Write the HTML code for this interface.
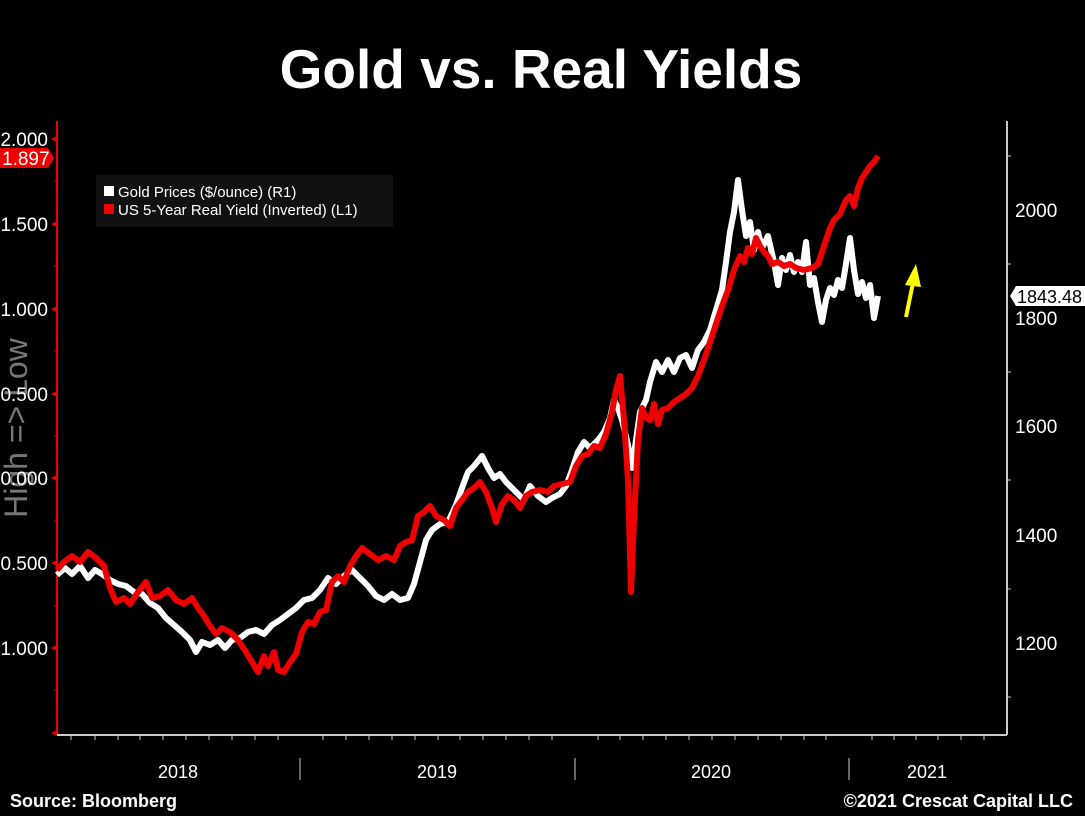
<!DOCTYPE html>
<html><head><meta charset="utf-8"><style>
html,body{margin:0;padding:0;background:#000;width:1085px;height:816px;overflow:hidden}
svg{display:block}
text{font-family:"Liberation Sans",sans-serif}
</style></head><body>
<svg width="1085" height="816" viewBox="0 0 1085 816">
<rect width="1085" height="816" fill="#000"/>
<text x="541" y="88" text-anchor="middle" fill="#fff" font-size="55" font-weight="bold">Gold vs. Real Yields</text>
<!-- left axis -->
<line x1="57" y1="121" x2="57" y2="735" stroke="#e00" stroke-width="2"/>
<g fill="#e00">
<polygon points="51,139 57,136 57,142"/><polygon points="51,224 57,221 57,227"/><polygon points="51,309 57,306 57,312"/>
<polygon points="51,394 57,391 57,397"/><polygon points="51,478 57,475 57,481"/><polygon points="51,563 57,560 57,566"/>
<polygon points="51,648 57,645 57,651"/><polygon points="51,733 57,730 57,736"/>
</g>
<g stroke="#e00" stroke-width="1"><line x1="54" y1="181" x2="57" y2="181"/><line x1="54" y1="266" x2="57" y2="266"/><line x1="54" y1="351" x2="57" y2="351"/><line x1="54" y1="436" x2="57" y2="436"/><line x1="54" y1="521" x2="57" y2="521"/><line x1="54" y1="606" x2="57" y2="606"/><line x1="54" y1="690" x2="57" y2="690"/></g>
<text x="-428" y="27" transform="rotate(-90)" text-anchor="middle" fill="#777" font-size="32">High =&gt; Low</text>
<g fill="#fff" font-size="19" text-anchor="end">
<text x="48" y="146">2.000</text><text x="48" y="231">1.500</text><text x="48" y="316">1.000</text>
<text x="48" y="401">0.500</text><text x="48" y="485">0.000</text><text x="48" y="570">0.500</text><text x="48" y="655">1.000</text>
</g>
<polygon points="0,148 48,148 54,158 48,168 0,168" fill="#e00"/>
<text x="2" y="165" fill="#fff" font-size="19">1.897</text>
<!-- right axis -->
<line x1="1007" y1="121" x2="1007" y2="735" stroke="#ccc" stroke-width="2"/>
<g stroke="#ccc"><line x1="1007" y1="156" x2="1011" y2="156"/><line x1="1007" y1="264" x2="1011" y2="264"/><line x1="1007" y1="372" x2="1011" y2="372"/><line x1="1007" y1="480" x2="1011" y2="480"/><line x1="1007" y1="589" x2="1011" y2="589"/><line x1="1007" y1="697" x2="1011" y2="697"/></g>
<g fill="#fff" font-size="19">
<text x="1015" y="217">2000</text><text x="1015" y="325">1800</text><text x="1015" y="433">1600</text><text x="1015" y="542">1400</text><text x="1015" y="650">1200</text>
</g>
<polygon points="1010,296 1016,286 1085,286 1085,306 1016,306" fill="#fff"/>
<text x="1017" y="303" fill="#000" font-size="18">1843.48</text>
<!-- bottom axis -->
<line x1="57" y1="735" x2="1007" y2="735" stroke="#ccc" stroke-width="2"/>
<g stroke="#ccc">
<line x1="71" y1="735" x2="71" y2="740"/><line x1="95" y1="735" x2="95" y2="740"/><line x1="118" y1="735" x2="118" y2="740"/><line x1="140" y1="735" x2="140" y2="740"/><line x1="163" y1="735" x2="163" y2="740"/><line x1="186" y1="735" x2="186" y2="740"/><line x1="209" y1="735" x2="209" y2="740"/><line x1="232" y1="735" x2="232" y2="740"/><line x1="255" y1="735" x2="255" y2="740"/><line x1="278" y1="735" x2="278" y2="740"/><line x1="323" y1="735" x2="323" y2="740"/><line x1="346" y1="735" x2="346" y2="740"/><line x1="369" y1="735" x2="369" y2="740"/><line x1="392" y1="735" x2="392" y2="740"/><line x1="415" y1="735" x2="415" y2="740"/><line x1="438" y1="735" x2="438" y2="740"/><line x1="460" y1="735" x2="460" y2="740"/><line x1="483" y1="735" x2="483" y2="740"/><line x1="506" y1="735" x2="506" y2="740"/><line x1="529" y1="735" x2="529" y2="740"/><line x1="552" y1="735" x2="552" y2="740"/><line x1="598" y1="735" x2="598" y2="740"/><line x1="620" y1="735" x2="620" y2="740"/><line x1="643" y1="735" x2="643" y2="740"/><line x1="666" y1="735" x2="666" y2="740"/><line x1="689" y1="735" x2="689" y2="740"/><line x1="712" y1="735" x2="712" y2="740"/><line x1="735" y1="735" x2="735" y2="740"/><line x1="758" y1="735" x2="758" y2="740"/><line x1="781" y1="735" x2="781" y2="740"/><line x1="804" y1="735" x2="804" y2="740"/><line x1="826" y1="735" x2="826" y2="740"/><line x1="872" y1="735" x2="872" y2="740"/><line x1="894" y1="735" x2="894" y2="740"/><line x1="916" y1="735" x2="916" y2="740"/><line x1="938" y1="735" x2="938" y2="740"/><line x1="961" y1="735" x2="961" y2="740"/><line x1="984" y1="735" x2="984" y2="740"/>
<line x1="300" y1="758" x2="300" y2="780"/><line x1="575" y1="758" x2="575" y2="780"/><line x1="849" y1="758" x2="849" y2="780"/>
</g>
<g fill="#fff" font-size="18" text-anchor="middle">
<text x="178" y="778">2018</text><text x="437" y="778">2019</text><text x="711" y="778">2020</text><text x="927" y="778">2021</text>
</g>
<!-- legend -->
<rect x="96" y="175" width="297" height="52" fill="#111"/>
<rect x="104" y="186" width="10" height="10" fill="#fff"/>
<text x="118" y="197" fill="#fff" font-size="15">Gold Prices ($/ounce) (R1)</text>
<rect x="104" y="204" width="10" height="10" fill="#e00"/>
<text x="118" y="215" fill="#fff" font-size="15">US 5-Year Real Yield (Inverted) (L1)</text>
<!-- series -->
<polyline fill="none" stroke="#fff" stroke-width="6" stroke-linejoin="round" points="57,575 65,568 72,574 80,566 88,578 95,570 102,574 110,580 118,584 126,586 134,592 142,594 150,603 158,608 166,618 174,625 182,632 190,640 196,652 202,642 210,645 218,640 225,648 232,640 240,638 248,632 256,630 264,634 272,625 280,620 288,614 296,608 304,600 312,598 320,590 328,578 336,584 344,576 352,570 360,578 368,586 376,596 384,600 392,594 400,600 408,598 414,584 420,562 426,540 432,530 440,524 448,522 456,505 462,488 468,472 474,466 482,456 488,468 494,478 500,474 506,482 512,488 518,494 524,500 530,486 538,496 546,502 552,498 560,494 566,486 572,470 578,452 584,442 590,448 598,440 604,432 610,418 614,400 618,408 622,420 628,445 632,468 636,440 640,412 646,400 650,382 656,362 662,372 668,360 674,372 680,358 686,355 692,368 698,350 704,342 710,330 716,310 722,290 726,262 730,232 734,212 738,180 742,210 746,236 750,222 754,250 758,232 762,248 768,236 774,262 778,285 782,258 786,270 790,255 794,272 798,262 802,272 806,242 810,285 814,278 818,302 822,322 826,300 830,288 834,295 838,280 842,288 846,264 850,238 854,270 858,294 862,282 866,298 870,285 874,318 878,296"/>
<polyline fill="none" stroke="#e00" stroke-width="6" stroke-linejoin="round" points="57,570 64,562 72,556 80,562 88,552 96,558 104,566 110,588 116,602 124,598 130,604 138,592 146,582 152,598 160,596 168,590 176,600 184,604 192,598 198,608 204,616 210,626 216,634 222,628 230,632 238,640 246,652 252,662 258,672 264,656 268,666 274,652 278,670 284,672 290,662 296,654 302,632 308,622 314,624 320,612 326,610 332,582 338,576 344,582 350,566 356,556 362,548 370,554 378,560 386,556 394,560 400,546 406,542 412,540 418,516 424,512 430,506 436,516 444,520 450,526 456,508 462,500 468,492 474,488 480,482 486,492 492,508 496,522 502,504 508,496 514,500 520,508 526,496 532,492 540,490 548,492 554,486 562,484 570,482 576,466 582,456 588,454 594,446 600,448 606,434 612,412 616,390 620,376 624,420 628,480 631,592 634,520 638,440 642,408 646,418 650,420 654,404 658,424 662,410 668,408 674,402 680,398 686,394 692,388 698,376 704,360 710,342 716,324 722,306 728,290 734,270 740,256 744,262 748,248 752,254 756,238 760,246 764,252 768,256 772,264 778,262 784,266 790,264 796,268 804,270 812,268 818,264 822,252 826,240 830,228 834,220 840,214 846,200 850,196 854,206 858,188 862,178 866,172 870,166 874,162 878,156"/>
<!-- arrow -->
<line x1="906" y1="317" x2="913" y2="283" stroke="#ff0" stroke-width="4"/>
<polygon points="905,285 916,264 921,287" fill="#ff0"/>
<text x="10" y="807" fill="#fff" font-size="18" font-weight="bold">Source: Bloomberg</text>
<text x="1073" y="807" text-anchor="end" fill="#fff" font-size="18" font-weight="bold">©2021 Crescat Capital LLC</text>
</svg>
</body></html>
